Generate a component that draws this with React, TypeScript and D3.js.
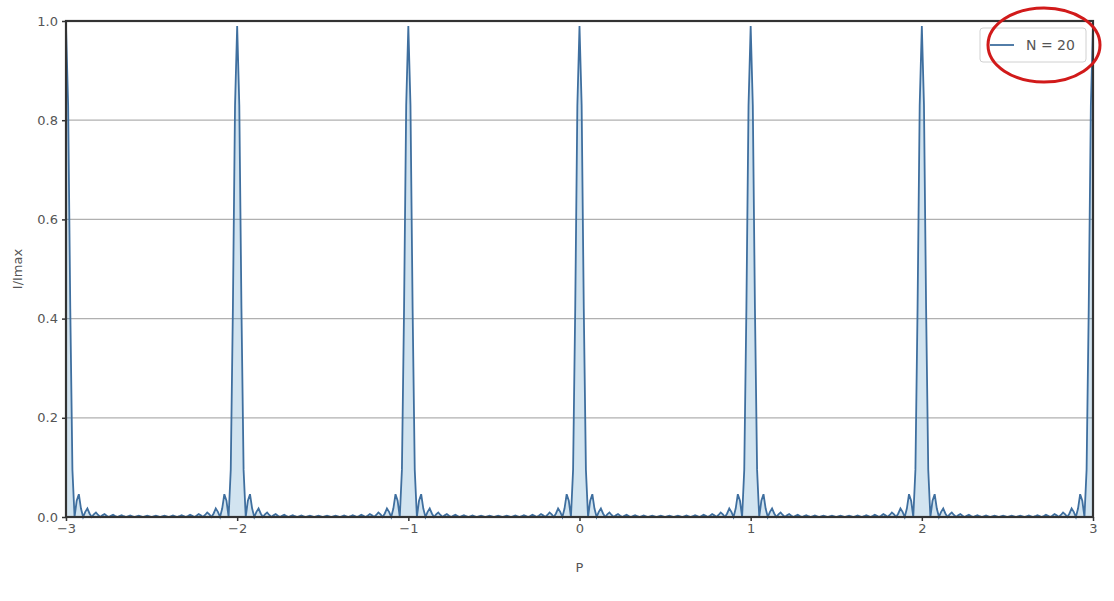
import React, { useRef, useEffect } from 'react';
import * as d3 from 'd3';

// peak positions (integer orders) and one half of a peak's profile, read off
// the picture every 0.0125 in p, from the centre out to the midpoint
const peakCentres = [-3, -2, -1, 0, 1, 2, 3];
const profileStep = 0.0125;
const halfProfile = [
  0.99, 0.83, 0.42, 0.095, 0,
  0.0328, 0.0459, 0.017, 0,
  0.0104, 0.0171, 0.0071, 0,
  0.0052, 0.0092, 0.0041, 0,
  0.0033, 0.0059, 0.0027, 0,
  0.0023, 0.0043, 0.002, 0,
  0.0018, 0.0034, 0.0016, 0,
  0.0015, 0.0029, 0.0014, 0,
  0.0014, 0.0026, 0.0013, 0,
  0.0013, 0.0025, 0.0013, 0,
];
const xTicks = [-3, -2, -1, 0, 1, 2, 3];
const yTicks = [0, 0.2, 0.4, 0.6, 0.8, 1.0];
const legendLabel = 'N = 20';

const App = () => {
  const ref = useRef<SVGSVGElement>(null);

  useEffect(() => {
    const svg = d3.select(ref.current);
    svg.selectAll('*').remove();

    const margin = { top: 21, right: 21, bottom: 84, left: 66 };
    const width = 1114 - margin.left - margin.right;
    const height = 601 - margin.top - margin.bottom;

    const x = d3.scaleLinear().domain([-3, 3]).range([0, width]);
    const y = d3.scaleLinear().domain([0, 1]).range([height, 0]);

    // lay the profile out around every peak
    const data: [number, number][] = [];
    const n = Math.round(6 / profileStep);
    for (let i = 0; i <= n; i++) {
      const p = -3 + i * profileStep;
      const c = peakCentres.reduce((a, b) => (Math.abs(b - p) < Math.abs(a - p) ? b : a));
      const k = Math.round(Math.abs(p - c) / profileStep);
      data.push([p, halfProfile[Math.min(k, halfProfile.length - 1)]]);
    }

    const g = svg.append('g').attr('transform', `translate(${margin.left},${margin.top})`);

    // horizontal grid
    g.append('g')
      .selectAll('line')
      .data(yTicks.slice(1, -1))
      .enter()
      .append('line')
      .attr('x1', 0)
      .attr('x2', width)
      .attr('y1', (d) => y(d))
      .attr('y2', (d) => y(d))
      .attr('stroke', '#b0b0b0')
      .attr('stroke-width', 1.2);

    const area = d3
      .area<[number, number]>()
      .x((d) => x(d[0]))
      .y0(y(0))
      .y1((d) => y(d[1]));
    const line = d3
      .line<[number, number]>()
      .x((d) => x(d[0]))
      .y((d) => y(d[1]));

    g.append('path').datum(data).attr('d', area).attr('fill', '#1f77b4').attr('fill-opacity', 0.2);
    g.append('path')
      .datum(data)
      .attr('d', line)
      .attr('fill', 'none')
      .attr('stroke', '#3f6f9f')
      .attr('stroke-width', 1.8);

    const xAxis = d3.axisBottom(x).tickValues(xTicks).tickSize(4).tickPadding(3).tickFormat((d) => {
      const v = +d;
      return v < 0 ? `\u2212${Math.abs(v)}` : `${v}`;
    });
    const yAxis = d3.axisLeft(y).tickValues(yTicks).tickSize(4).tickPadding(4).tickFormat(d3.format('.1f'));

    const ax = g.append('g').attr('transform', `translate(0,${height})`).call(xAxis);
    const ay = g.append('g').call(yAxis);
    [ax, ay].forEach((a) => {
      a.select('.domain').remove();
      a.selectAll('line').attr('stroke', '#333').attr('stroke-width', 1.5);
      a.selectAll('text')
        .attr('fill', '#555')
        .attr('font-size', '13px')
        .attr('font-family', 'DejaVu Sans, sans-serif');
    });

    // frame
    g.append('rect')
      .attr('width', width)
      .attr('height', height)
      .attr('fill', 'none')
      .attr('stroke', '#333')
      .attr('stroke-width', 2.2);

    svg
      .append('text')
      .attr('x', margin.left + x(0))
      .attr('y', 572)
      .attr('text-anchor', 'middle')
      .attr('fill', '#555')
      .attr('font-size', '13px')
      .attr('font-family', 'DejaVu Sans, sans-serif')
      .text('P');

    svg
      .append('text')
      .attr('transform', `translate(22,${margin.top + height / 2}) rotate(-90)`)
      .attr('text-anchor', 'middle')
      .attr('fill', '#555')
      .attr('font-size', '13px')
      .attr('font-family', 'DejaVu Sans, sans-serif')
      .text('I/Imax');

    // legend
    const lg = svg.append('g').attr('transform', 'translate(980,28)');
    lg.append('rect')
      .attr('width', 106)
      .attr('height', 34)
      .attr('rx', 3)
      .attr('fill', 'white')
      .attr('fill-opacity', 0.85)
      .attr('stroke', '#d0d0d0');
    lg.append('line')
      .attr('x1', 10)
      .attr('x2', 34)
      .attr('y1', 17)
      .attr('y2', 17)
      .attr('stroke', '#3f6f9f')
      .attr('stroke-width', 1.8);
    lg.append('text')
      .attr('x', 46)
      .attr('y', 22)
      .attr('fill', '#555')
      .attr('font-size', '14px')
      .attr('font-family', 'DejaVu Sans, sans-serif')
      .text(legendLabel);

    // red annotation ring round the legend
    svg
      .append('ellipse')
      .attr('cx', 1044)
      .attr('cy', 45)
      .attr('rx', 56)
      .attr('ry', 37)
      .attr('fill', 'none')
      .attr('stroke', '#d11a1a')
      .attr('stroke-width', 3);
  }, []);

  return <svg ref={ref} width={1114} height={601} style={{ position: 'absolute', left: 0, top: 0 }} />;
};

export default App;
